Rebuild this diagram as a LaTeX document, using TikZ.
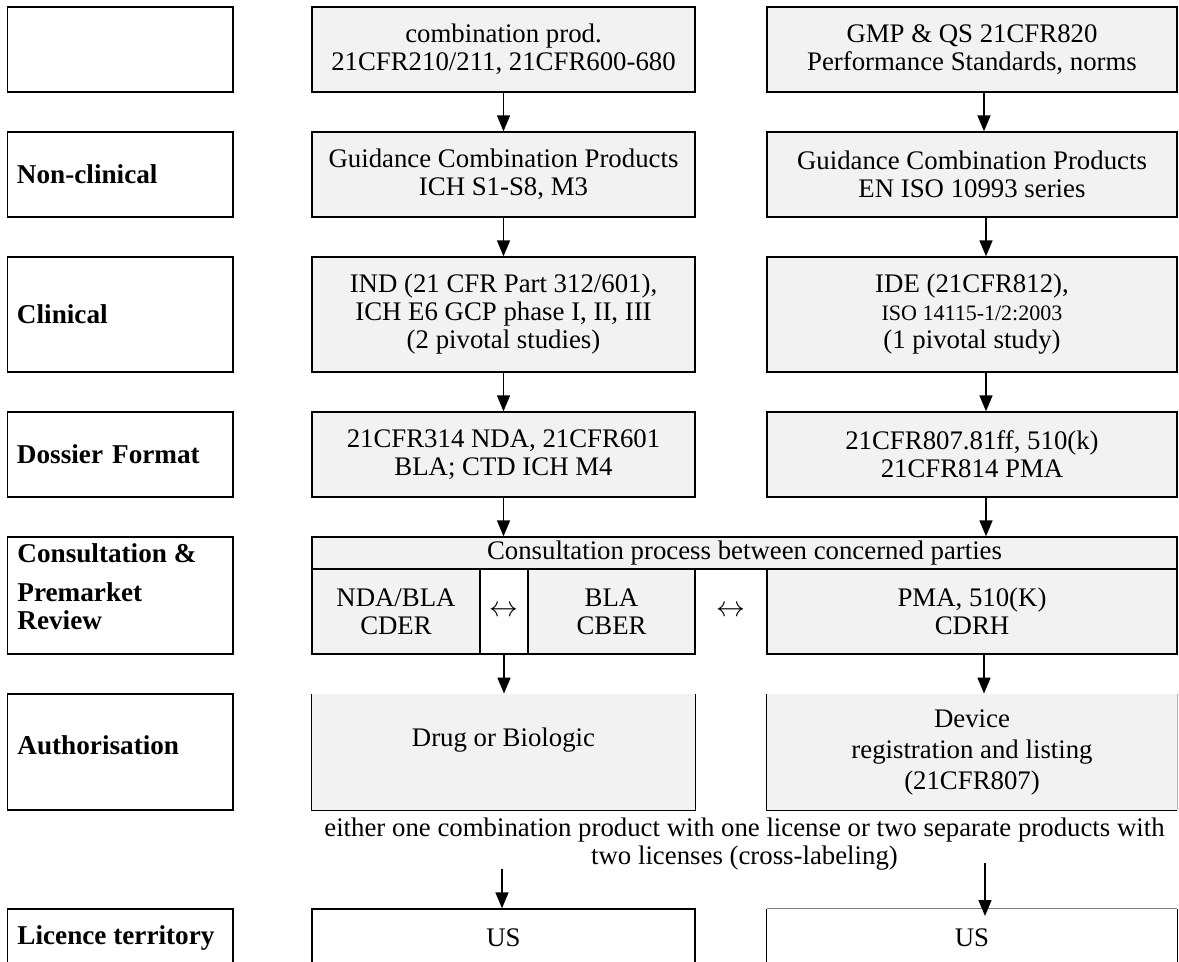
\documentclass[tikz,border=0pt]{standalone}
\usepackage{fontspec}
\setmainfont{Liberation Serif}
\usetikzlibrary{arrows.meta}
\definecolor{boxgray}{HTML}{F2F2F2}
\begin{document}
\begin{tikzpicture}[x=0.5pt,y=-0.5pt,
  every node/.style={font=\fontsize{13.4}{14}\selectfont, inner sep=0pt},
  edge/.style={draw=black, line width=0.7pt},
  gbox/.style={edge, fill=boxgray, align=center},
  gfill/.style={fill=boxgray, align=center},
  wbox/.style={edge, fill=white, align=center},
  lab/.style={edge, minimum width=112.75pt, text width=103.25pt, align=left, font=\bfseries\fontsize{13.6}{14}\selectfont},
  labtxt/.style={align=left, font=\bfseries\fontsize{13.6}{14}\selectfont},
  mid/.style={minimum width=191.5pt},
  rgt/.style={minimum width=205pt},
  hstd/.style={minimum height=42.5pt},
  arr/.style={line width=0.8pt, -{Triangle[length=8pt,width=6.5pt]}},
]
\clip (0,0) rectangle (1179,962);
\fill[white] (0,0) rectangle (1179,962);

% left labels
\node[lab, hstd] (L1) at (120.25,49.5) {};
\node[lab, hstd] (L2) at (120.25,174.5) {Non-clinical};
\node[lab, minimum height=57.5pt] (L3) at (120.25,314.5) {Clinical};
\node[lab, hstd] (L4) at (120.25,454.5) {Dossier Format};
\node[lab, minimum height=58.5pt] (L5) at (120.25,595.5) {};
\node[labtxt, anchor=west] (L5t) at (17,586.5) {Consultation \&\\[5.5pt]Premarket\\Review};
\node[lab, minimum height=58pt] (L6) at (120.25,752) {};
\node[labtxt, anchor=west] (L6t) at (17,745) {Authorisation};
\node[lab, minimum height=33pt] (L7) at (120.25,942) {};
\node[labtxt, anchor=west] (L7t) at (17,938) {Licence territory};

% rows 1-4
\node[gbox, mid, hstd] (m1) at (503.5,49.5) {combination prod.\\21CFR210/211, 21CFR600-680};
\node[gbox, rgt, hstd] (r1) at (972,49.5) {GMP \& QS 21CFR820\\Performance Standards, norms};
\node[gbox, mid, hstd] (m2) at (503.5,174.5) {Guidance Combination Products\\ICH S1-S8, M3};
\node[gbox, rgt, hstd] (r2) at (972,174.5) {Guidance Combination Products\\EN ISO 10993 series};
\node[gbox, mid, minimum height=57.5pt] (m3) at (503.5,314.5) {IND (21 CFR Part 312/601),\\ICH E6 GCP phase I, II, III\\(2 pivotal studies)};
\node[gbox, rgt, minimum height=57.5pt] (r3) at (972,314.5) {IDE (21CFR812),\\{\fontsize{11}{14}\selectfont ISO 14115-1/2:2003}\\(1 pivotal study)};
\node[gbox, mid, hstd] (m4) at (503.5,454.5) {21CFR314 NDA, 21CFR601\\BLA; CTD ICH M4};
\node[gbox, rgt, hstd] (r4) at (972,454.5) {21CFR807.81ff, 510(k)\\21CFR814 PMA};

% consultation
\node[gbox, minimum width=432.5pt, minimum height=16pt] (cb) at (744.5,553) {Consultation process between concerned parties};
\node[gbox, minimum width=84pt, hstd] (s1) at (396,611.5) {NDA/BLA\\CDER};
\node[wbox, minimum width=24pt, hstd] (a1) at (504,611.5) {$\leftrightarrow$};
\node[gbox, minimum width=83.5pt, hstd] (s2) at (611.5,611.5) {BLA\\CBER};
\node (a2) at (731,611.5) {$\leftrightarrow$};
\node[gbox, rgt, hstd] (s3) at (972,611.5) {PMA, 510(K)\\CDRH};

% authorisation
\node[gfill, mid, minimum height=58pt] (d1) at (503.5,752) {};
\node (d1t) at (503.5,740) {Drug or Biologic};
\draw[edge] (d1.north west) -- (d1.south west) -- (d1.south east) -- (d1.north east);
\node[gfill, rgt, minimum height=58pt] (d2) at (972,752) {Device\\[1.5pt]registration and listing\\[1.5pt](21CFR807)};
\draw[edge] (d2.north west) -- (d2.south west) -- (d2.south east);
\draw[edge, draw=gray!60] (d2.south east) -- (d2.north east);

% note
\node[align=center] (note) at (744.5,844) {either one combination product with one license or two separate products with\\two licenses (cross-labeling)};

% licence
\node[wbox, mid, minimum height=33pt] (l1) at (503.5,942) {};
\node (l1t) at (503.5,938) {US};
\node[fill=white, rgt, minimum height=33pt] (l2) at (972,942) {};
\draw[edge] (l2.north west) -- (l2.south west) -- (l2.south east) -- (l2.north east);
\draw[edge, draw=gray] (l2.north west) -- (l2.north east);
\node (l2t) at (972,938) {US};

% arrows
\draw[arr] (m1.south) -- (m2.north);
\draw[arr] (m2.south) -- (m3.north);
\draw[arr] (m3.south) -- (m4.north);
\draw[arr] (m4.south) -- (m4.south |- cb.north);
\draw[arr] (a1.south) -- (a1.south |- d1.north);
\draw[arr] ([xshift=6pt]r1.south) -- ([xshift=6pt]r2.north);
\draw[arr] ([xshift=7pt]r2.south) -- ([xshift=7pt]r3.north);
\draw[arr] ([xshift=7pt]r3.south) -- ([xshift=7pt]r4.north);
\draw[arr] ([xshift=7pt]r4.south) -- ([xshift=7pt]r4.south |- cb.north);
\draw[arr] ([xshift=6pt]s3.south) -- ([xshift=6pt]d2.north);
\coordinate (n1) at (502,869);
\coordinate (n2) at (985,863);
\coordinate (n2e) at (985,916);
\draw[arr] (n1) -- (n1 |- l1.north);
\draw[arr] (n2) -- (n2e);
\end{tikzpicture}
\end{document}
